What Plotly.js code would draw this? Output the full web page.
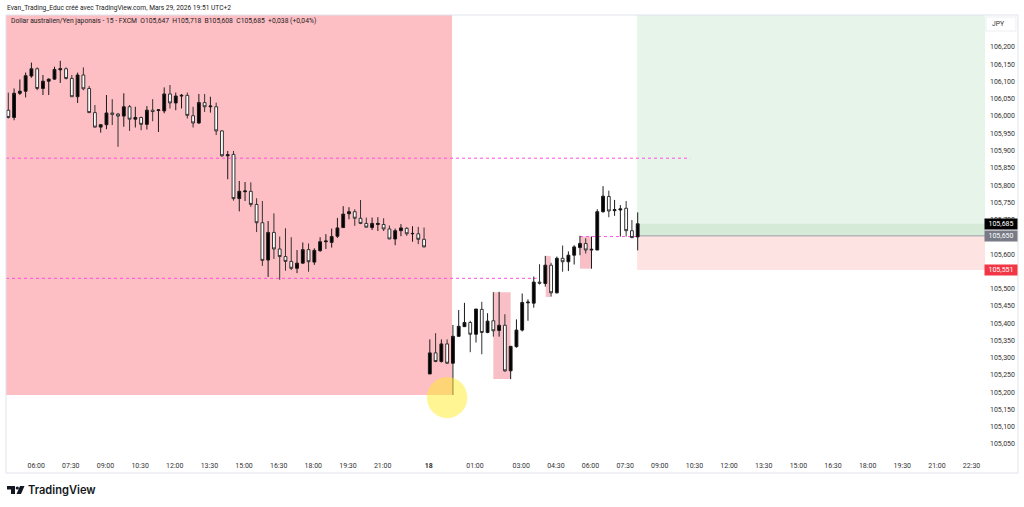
<!DOCTYPE html>
<html><head><meta charset="utf-8">
<script src="https://cdn.plot.ly/plotly-3.0.1.min.js"></script>
<style>html,body{margin:0;padding:0;background:#fff}#c{width:1024px;height:507px}</style>
</head><body><div id="c"></div>
<script>
const open_=[106.014,105.993,106.063,106.069,106.113,106.134,106.077,106.098,106.104,106.131,
106.134,106.106,106.053,106.116,106.077,106.007,105.965,105.972,106.006,106.003,
105.997,106.024,105.988,105.993,105.973,106.014,106.013,106.012,106.061,106.035,
106.055,106.057,105.998,105.977,106.036,106.024,106.024,105.954,105.882,105.886,
105.758,105.778,105.779,105.741,105.688,105.580,105.660,105.612,105.590,105.576,
105.556,105.571,105.610,105.574,105.607,105.633,105.631,105.649,105.674,105.714,
105.720,105.701,105.686,105.674,105.683,105.683,105.670,105.641,105.665,105.672,
105.656,105.656,105.640,105.250,105.311,105.286,105.337,105.281,105.359,105.387,
105.399,105.365,105.437,105.370,105.404,105.376,105.391,105.259,105.329,105.377,
105.456,105.455,105.516,105.512,105.565,105.485,105.585,105.575,105.594,105.616,
105.628,105.609,105.609,105.720,105.764,105.723,105.725,105.730,105.665,105.647];
const high_=[106.065,106.077,106.103,106.123,106.152,106.138,106.116,106.106,106.140,106.157,
106.138,106.116,106.123,106.138,106.084,106.029,105.974,106.058,106.046,106.006,
106.063,106.029,106.024,105.995,106.026,106.046,106.017,106.080,106.087,106.065,
106.061,106.065,106.024,106.061,106.061,106.053,106.036,105.956,105.896,105.896,
105.809,105.806,105.805,105.759,105.751,105.693,105.715,105.648,105.672,105.646,
105.609,105.631,105.628,105.614,105.646,105.655,105.671,105.702,105.736,105.733,
105.727,105.754,105.703,105.703,105.704,105.701,105.680,105.671,105.684,105.675,
105.678,105.676,105.674,105.350,105.368,105.350,105.350,105.392,105.435,105.456,
105.404,105.438,105.459,105.426,105.487,105.488,105.423,105.330,105.408,105.483,
105.466,105.532,105.568,105.592,105.572,105.590,105.622,105.605,105.623,105.650,
105.643,105.648,105.727,105.794,105.781,105.754,105.739,105.751,105.696,105.718];
const low_=[105.990,105.985,106.058,106.051,106.108,106.072,106.058,106.058,106.103,106.093,
106.103,106.053,106.035,106.072,106.006,105.964,105.949,105.959,105.971,105.908,
105.966,105.954,105.964,105.956,105.958,105.982,105.951,106.005,106.019,106.014,
106.019,105.990,105.964,105.974,106.009,106.007,105.942,105.879,105.814,105.752,
105.721,105.751,105.734,105.661,105.563,105.531,105.583,105.523,105.549,105.551,
105.542,105.570,105.546,105.566,105.604,105.612,105.616,105.644,105.674,105.698,
105.679,105.684,105.675,105.667,105.664,105.664,105.641,105.623,105.649,105.650,
105.633,105.626,105.617,105.250,105.284,105.283,105.279,105.189,105.358,105.387,
105.313,105.341,105.307,105.368,105.358,105.358,105.256,105.235,105.326,105.373,
105.404,105.442,105.509,105.503,105.474,105.483,105.546,105.548,105.567,105.594,
105.599,105.555,105.609,105.717,105.704,105.708,105.648,105.648,105.643,105.608];
const close_=[105.993,106.063,106.069,106.114,106.134,106.077,106.098,106.104,106.132,106.134,
106.106,106.053,106.116,106.076,106.007,105.965,105.972,106.006,106.002,105.997,
106.024,105.988,105.993,105.973,106.014,106.010,106.015,106.061,106.035,106.055,
106.057,105.999,105.977,106.036,106.024,106.026,105.954,105.882,105.885,105.758,
105.779,105.780,105.741,105.688,105.579,105.660,105.612,105.590,105.576,105.556,
105.571,105.610,105.575,105.608,105.633,105.635,105.648,105.673,105.713,105.720,
105.701,105.686,105.675,105.686,105.686,105.670,105.641,105.665,105.673,105.656,
105.657,105.640,105.618,105.311,105.286,105.337,105.281,105.359,105.388,105.399,
105.365,105.438,105.370,105.403,105.375,105.391,105.259,105.330,105.377,105.457,
105.458,105.516,105.513,105.565,105.485,105.585,105.575,105.594,105.618,105.628,
105.609,105.611,105.720,105.765,105.722,105.726,105.728,105.665,105.645,105.685];
const xTickVals=[6,12,18,24,30,36,42,48,54,60,66,74,82,90,96,102,108,114,120,126,132,138,144,150,156,162,168];
const xTickText=["06:00","07:30","09:00","10:30","12:00","13:30","15:00","16:30","18:00","19:30","21:00","<b>18</b>","01:00","03:00","04:30","06:00","07:30","09:00","10:30","12:00","13:30","15:00","16:30","18:00","19:30","21:00","22:30"];
const yTickVals=[106.2,106.15,106.1,106.05,106.0,105.95,105.9,105.85,105.8,105.75,105.7,105.6,105.5,105.45,105.4,105.35,105.3,105.25,105.2,105.15,105.1,105.05];
const yTickText=["106,200","106,150","106,100","106,050","106,000","105,950","105,900","105,850","105,800","105,750","105,700","105,600","105,500","105,450","105,400","105,350","105,300","105,250","105,200","105,150","105,100","105,050"];
const entry=105.650, stop=105.551, last=105.685;
const xRange=[0.6,170.15], yRange=[105.0123,106.2898];
const pinkBox=[xRange[0],77.85,105.189,yRange[1]];
const smallBoxes=[[85,88,105.235,105.487],[94.08,94.95,105.473,105.592],[100,102,105.555,105.648]];
const dashed=[[xRange[0],119.1,105.875],[xRange[0],92.5,105.527],[100,110,105.648]];
const circle=[73.5,80.5,105.122,105.241];

const L=5.5,R=985,T=15,B=456;
const px=x=>(x-L)/(R-L), py=y=>(B-y)/(B-T);
const path=pts=>'M'+pts.map(p=>px(p[0])+','+py(p[1])).join('L')+'Z';
const rect=(x0,x1,y0,y1,c,layer)=>({type:'rect',xref:'x',yref:'y',x0,x1,y0,y1,fillcolor:c,line:{width:0},layer:layer||'below'});
const shapes=[
 rect(pinkBox[0],pinkBox[1],pinkBox[2],pinkBox[3],'#fdbec4'),
 ...smallBoxes.map(b=>rect(b[0],b[1],b[2],b[3],'#f8c0c6')),
 rect(109.9,xRange[1],entry,yRange[1],'#e6f4e9'),
 rect(109.9,xRange[1],entry,last,'#d5ebd7'),
 rect(109.9,xRange[1],stop,entry,'#fde3e1'),
 {type:'line',xref:'x',yref:'y',x0:109.9,x1:xRange[1],y0:entry,y1:entry,line:{color:'#9a9da6',width:1},layer:'below'},
 ...dashed.map(d=>({type:'line',xref:'x',yref:'y',x0:d[0],x1:d[1],y0:d[2],y1:d[2],line:{color:'#ff4fe0',width:1,dash:'3px,3px'},layer:'below'})),
 {type:'circle',xref:'x',yref:'y',x0:circle[0],x1:circle[1],y0:circle[2],y1:circle[3],fillcolor:'rgba(255,235,40,0.5)',line:{width:0},layer:'above'},
 {type:'rect',xref:'paper',yref:'paper',x0:px(5.5),x1:px(1018),y0:py(473),y1:py(15),line:{color:'#e0e3eb',width:1},fillcolor:'rgba(0,0,0,0)',layer:'above'},
 {type:'rect',xref:'paper',yref:'paper',x0:px(986),x1:px(1016),y0:py(31),y1:py(17),line:{color:'#eceef2',width:1},fillcolor:'#fff',layer:'above'},
 {type:'path',xref:'paper',yref:'paper',path:path([[6.5,486],[14.5,486],[14.5,494],[10.5,494],[10.5,489.5],[6.5,489.5]]),fillcolor:'#131722',line:{width:0},layer:'above'},
 {type:'circle',xref:'paper',yref:'paper',x0:px(15.2),x1:px(18.4),y0:py(489.6),y1:py(486.4),fillcolor:'#131722',line:{width:0},layer:'above'},
 {type:'path',xref:'paper',yref:'paper',path:path([[19.5,486],[24,486],[20.5,494],[16,494]]),fillcolor:'#131722',line:{width:0},layer:'above'}
];
const font='Roboto, sans-serif';
const tag=(txt,y,bg)=>({xref:'paper',yref:'y',x:px(984.3),y,xanchor:'left',yanchor:'middle',text:txt,showarrow:false,bgcolor:bg,width:32,height:10,borderpad:0,align:'center',font:{family:font,size:7,color:'#fff'}});
const note=(txt,x,y,size,color,extra)=>Object.assign({xref:'paper',yref:'paper',x:px(x),y:py(y),xanchor:'left',yanchor:'middle',text:txt,showarrow:false,borderpad:0,font:{family:font,size,color}},extra||{});
const annotations=[
 note('Evan_Trading_Educ créé avec TradingView.com, Mars 29, 2026 19:51 UTC+2',6,8,6.65,'#222'),
 note('Dollar australien/Yen japonais - 15 - FXCM\u00a0\u00a0O105,647\u00a0\u00a0H105,718\u00a0\u00a0B105,608\u00a0\u00a0C105,685\u00a0\u00a0+0,038 (+0,04%)',10,21.5,6.75,'#222'),
 note('JPY',991,24,6.8,'#333'),
 tag('105,685',last,'#000'),
 tag('105,650',entry,'#787b86'),
 tag('105,551',stop,'#f23645'),
 note('TradingView',27,490,11,'#131722',{font:{family:'Inter, sans-serif',size:11.1,color:'#131722',weight:600}})
];
const idx=open_.map((_,i)=>i+1);
Plotly.newPlot('c',[{
 type:'candlestick',x:idx,open:open_,high:high_,low:low_,close:close_,whiskerwidth:0,hoverinfo:'skip',
 increasing:{line:{color:'#1a1a1a',width:1},fillcolor:'#000'},
 decreasing:{line:{color:'#333',width:1},fillcolor:'#fff'}
}],{
 width:1024,height:507,showlegend:false,paper_bgcolor:'#fff',plot_bgcolor:'#fff',
 margin:{l:L,r:1024-R,t:T,b:507-B,pad:0},
 xaxis:{range:xRange,rangeslider:{visible:false},tickmode:'array',tickvals:xTickVals,ticktext:xTickText,showgrid:false,zeroline:false,showline:false,ticks:'',ticklabelstandoff:4,ticklabelshift:-1,tickfont:{family:font,size:7,color:'#333'},tickangle:0},
 yaxis:{side:'right',range:yRange,tickmode:'array',tickvals:yTickVals,ticktext:yTickText,showgrid:false,zeroline:false,showline:false,ticks:'',ticklabelstandoff:4,ticklabelshift:1,tickfont:{family:font,size:7,color:'#333'}},
 shapes,annotations
},{displayModeBar:false,staticPlot:true});
</script></body></html>
